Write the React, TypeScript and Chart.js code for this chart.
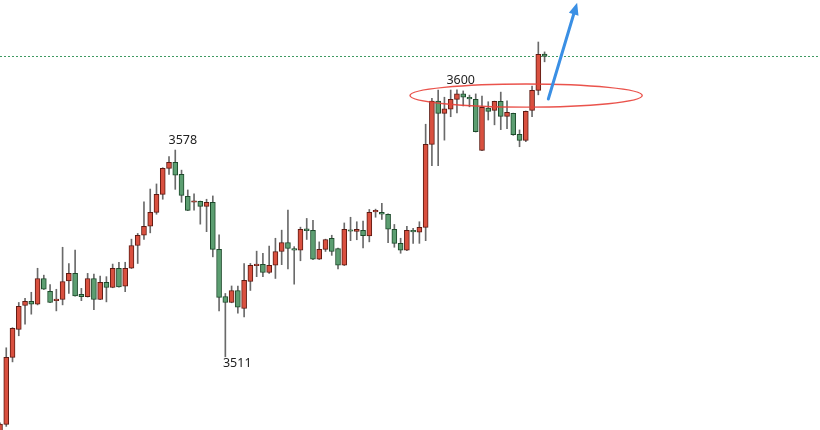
import React, { useEffect, useRef } from "react";
import { Chart, registerables } from "chart.js";

Chart.register(...registerables);

// OHLC per bar (index 0 .. 87)
const opens = [
  3483.0, 3488.5, 3510.8, 3520.1, 3528.1, 3529.5, 3528.5, 3537.1, 3532.8, 3529.7,
  3530.1, 3536.3, 3538.8, 3531.8, 3531.0, 3537.1, 3530.1, 3535.8, 3534.1, 3540.5,
  3534.5, 3540.5, 3548.1, 3551.5, 3554.5, 3559.1, 3565.1, 3573.8, 3575.8, 3571.8,
  3564.5, 3562.5, 3562.8, 3561.1, 3562.5, 3546.8, 3531.1, 3529.1, 3533.1, 3527.1,
  3536.1, 3541.4, 3541.8, 3539.1, 3541.5, 3546.1, 3549.1, 3547.1, 3546.5, 3553.6,
  3553.1, 3543.5, 3546.8, 3550.5, 3547.1, 3541.5, 3553.3, 3552.8, 3553.1, 3551.3,
  3559.3, 3559.1, 3558.5, 3553.5, 3548.8, 3546.5, 3553.1, 3552.5, 3554.1, 3581.8,
  3596.2, 3592.1, 3593.5, 3596.8, 3598.6, 3597.5, 3596.8, 3579.8, 3593.9, 3593.1,
  3596.1, 3591.1, 3592.1, 3585.1, 3583.1, 3593.1, 3599.8, 3611.9,
];
const highs = [
  3489.0, 3514.0, 3520.7, 3529.1, 3530.5, 3532.5, 3540.5, 3538.2, 3535.1, 3533.5,
  3547.5, 3542.1, 3546.6, 3533.8, 3538.8, 3538.6, 3537.9, 3537.7, 3541.9, 3542.5,
  3542.5, 3550.2, 3552.1, 3562.6, 3566.9, 3568.6, 3574.0, 3577.7, 3579.9, 3573.2,
  3566.6, 3565.3, 3562.9, 3563.5, 3564.6, 3551.6, 3532.1, 3534.6, 3534.6, 3542.1,
  3542.1, 3546.2, 3545.5, 3547.9, 3550.5, 3553.2, 3559.9, 3547.7, 3554.2, 3557.1,
  3556.5, 3549.3, 3550.2, 3551.5, 3547.2, 3555.6, 3557.5, 3556.0, 3556.2, 3560.1,
  3560.2, 3562.1, 3558.6, 3555.1, 3550.5, 3554.5, 3553.8, 3556.0, 3588.5, 3597.1,
  3599.9, 3597.5, 3599.9, 3600.0, 3599.6, 3598.2, 3598.6, 3597.9, 3596.0, 3596.2,
  3599.2, 3596.3, 3592.2, 3586.6, 3592.9, 3601.2, 3615.9, 3612.6,
];
const lows = [
  3481.5, 3487.8, 3509.3, 3518.0, 3521.9, 3525.2, 3528.3, 3533.4, 3529.0, 3526.3,
  3528.3, 3532.1, 3531.2, 3529.7, 3530.9, 3526.7, 3530.0, 3529.3, 3534.0, 3534.2,
  3532.7, 3540.4, 3542.1, 3550.1, 3552.3, 3558.5, 3563.5, 3571.8, 3566.8, 3562.5,
  3559.7, 3559.9, 3555.2, 3552.7, 3544.3, 3526.3, 3511.0, 3529.0, 3525.5, 3524.3,
  3533.1, 3537.7, 3537.7, 3538.8, 3537.1, 3541.7, 3540.3, 3535.2, 3543.0, 3550.1,
  3543.4, 3543.4, 3546.1, 3544.8, 3540.3, 3541.4, 3549.7, 3550.0, 3547.3, 3549.3,
  3557.5, 3556.8, 3549.0, 3547.5, 3545.5, 3546.4, 3548.8, 3548.8, 3549.7, 3574.7,
  3574.7, 3583.2, 3591.0, 3592.3, 3594.6, 3594.3, 3585.9, 3579.7, 3589.9, 3588.3,
  3586.7, 3587.0, 3584.8, 3581.0, 3582.7, 3591.0, 3598.3, 3609.3,
];
const closes = [
  3488.6, 3510.8, 3520.5, 3527.8, 3529.5, 3528.5, 3537.1, 3533.5, 3529.1, 3530.2,
  3536.1, 3538.8, 3531.3, 3531.0, 3537.1, 3530.1, 3535.8, 3534.1, 3540.5, 3534.3,
  3540.5, 3548.1, 3551.5, 3554.5, 3559.1, 3565.1, 3573.8, 3575.8, 3571.5, 3564.8,
  3559.8, 3563.0, 3561.1, 3562.5, 3546.8, 3530.8, 3529.1, 3533.1, 3527.5, 3536.5,
  3541.5, 3541.9, 3539.1, 3541.5, 3546.1, 3549.1, 3547.1, 3546.5, 3553.5, 3553.0,
  3543.5, 3546.8, 3550.1, 3546.1, 3541.5, 3553.5, 3552.9, 3553.5, 3551.4, 3559.1,
  3559.8, 3558.5, 3553.5, 3548.8, 3546.5, 3553.1, 3552.6, 3554.1, 3581.8, 3596.2,
  3592.1, 3593.6, 3596.8, 3598.6, 3597.5, 3596.9, 3586.0, 3594.1, 3592.8, 3596.1,
  3591.1, 3592.5, 3585.0, 3583.1, 3592.8, 3599.8, 3611.8, 3611.1,
];

// Text annotations (x in bar index units, y in price)
const noteTexts = ["3578", "3511", "3600"];
const noteIdx = [29.2, 37.9, 73.6];
const notePrice = [3583.2, 3508.8, 3603.2];

// Ellipse bounds (bar index / price)
const ellipseIdx = [65.5, 102.6];
const ellipsePrice = [3594.2, 3601.9];

// Arrow from / to (bar index / price)
const arrowIdx = [87.6, 92.2];
const arrowPrice = [3596.9, 3629.0];

const UP_FILL = "#d9503f";
const UP_LINE = "#5e1a12";
const DN_FILL = "#5c9e71";
const DN_LINE = "#1d4a2b";
const WICK = "#6a6a6a";

const annotations = {
  id: "annotations",
  beforeDatasetsDraw(chart: any) {
    const { ctx, chartArea, scales } = chart;
    const y = scales.y;
    const ly = Math.round(y.getPixelForValue(closes[closes.length - 1])) + 0.5;
    ctx.save();
    ctx.strokeStyle = "#3f9a63";
    ctx.lineWidth = 1;
    ctx.setLineDash([2, 2]);
    ctx.beginPath();
    ctx.moveTo(chartArea.left, ly);
    ctx.lineTo(chartArea.right, ly);
    ctx.stroke();
    ctx.restore();
  },
  afterDatasetsDraw(chart: any) {
    const { ctx, scales } = chart;
    const x = scales.x;
    const y = scales.y;
    ctx.save();
    // ellipse
    const ex1 = x.getPixelForValue(ellipseIdx[0]);
    const ex2 = x.getPixelForValue(ellipseIdx[1]);
    const ey1 = y.getPixelForValue(ellipsePrice[1]);
    const ey2 = y.getPixelForValue(ellipsePrice[0]);
    ctx.strokeStyle = "rgba(232,64,56,0.9)";
    ctx.lineWidth = 1.4;
    ctx.beginPath();
    ctx.ellipse((ex1 + ex2) / 2, (ey1 + ey2) / 2, (ex2 - ex1) / 2, (ey2 - ey1) / 2, 0, 0, Math.PI * 2);
    ctx.stroke();

    // arrow
    const ax1 = x.getPixelForValue(arrowIdx[0]);
    const ay1 = y.getPixelForValue(arrowPrice[0]);
    const ax2 = x.getPixelForValue(arrowIdx[1]);
    const ay2 = y.getPixelForValue(arrowPrice[1]);
    const ang = Math.atan2(ay2 - ay1, ax2 - ax1);
    const headLen = 12;
    const headW = 5;
    const bx = ax2 - Math.cos(ang) * headLen;
    const by = ay2 - Math.sin(ang) * headLen;
    ctx.strokeStyle = "#3a8fe4";
    ctx.fillStyle = "#3a8fe4";
    ctx.lineWidth = 3;
    ctx.lineCap = "round";
    ctx.beginPath();
    ctx.moveTo(ax1, ay1);
    ctx.lineTo(bx + Math.cos(ang) * 2, by + Math.sin(ang) * 2);
    ctx.stroke();
    ctx.beginPath();
    ctx.moveTo(ax2, ay2);
    ctx.lineTo(bx + Math.cos(ang + Math.PI / 2) * headW, by + Math.sin(ang + Math.PI / 2) * headW);
    ctx.lineTo(bx - Math.cos(ang + Math.PI / 2) * headW, by - Math.sin(ang + Math.PI / 2) * headW);
    ctx.closePath();
    ctx.fill();

    // texts
    ctx.fillStyle = "#222222";
    ctx.font = '12.5px "Noto Sans", "DejaVu Sans", sans-serif';
    ctx.textAlign = "center";
    ctx.textBaseline = "middle";
    noteTexts.forEach((t, i) => {
      ctx.fillText(t, x.getPixelForValue(noteIdx[i]), y.getPixelForValue(notePrice[i]));
    });
    ctx.restore();
  },
};

export default function App() {
  const ref = useRef<HTMLCanvasElement | null>(null);

  useEffect(() => {
    if (!ref.current) return;
    const isUp = (i: number) => closes[i] >= opens[i];
    const chart = new Chart(ref.current, {
      type: "bar",
      data: {
        datasets: [
          {
            label: "body",
            data: opens.map((o, i) => ({ x: i, y: [o, closes[i]] })) as any,
            backgroundColor: opens.map((_, i) => (isUp(i) ? UP_FILL : DN_FILL)),
            borderColor: opens.map((_, i) => (isUp(i) ? UP_LINE : DN_LINE)),
            borderWidth: 1,
            borderSkipped: false,
            barThickness: 5,
            grouped: false,
          } as any,
          {
            label: "wick",
            data: lows.map((l, i) => ({ x: i, y: [l, highs[i]] })) as any,
            backgroundColor: WICK,
            borderWidth: 0,
            barThickness: 1,
            grouped: false,
          } as any,
        ],
      },
      options: {
        animation: false,
        responsive: false,
        layout: { padding: 0 },
        plugins: { legend: { display: false }, tooltip: { enabled: false } },
        scales: {
          x: { type: "linear", min: 0, max: 131, display: false, offset: false },
          y: { type: "linear", min: 3486.6, max: 3629.9, display: false },
        },
      },
      plugins: [annotations],
    });
    return () => chart.destroy();
  }, []);

  return (
    <div style={{ position: "fixed", left: 0, top: 0, width: 820, height: 430, background: "#ffffff" }}>
      <canvas ref={ref} width={820} height={430} style={{ display: "block" }} />
    </div>
  );
}
